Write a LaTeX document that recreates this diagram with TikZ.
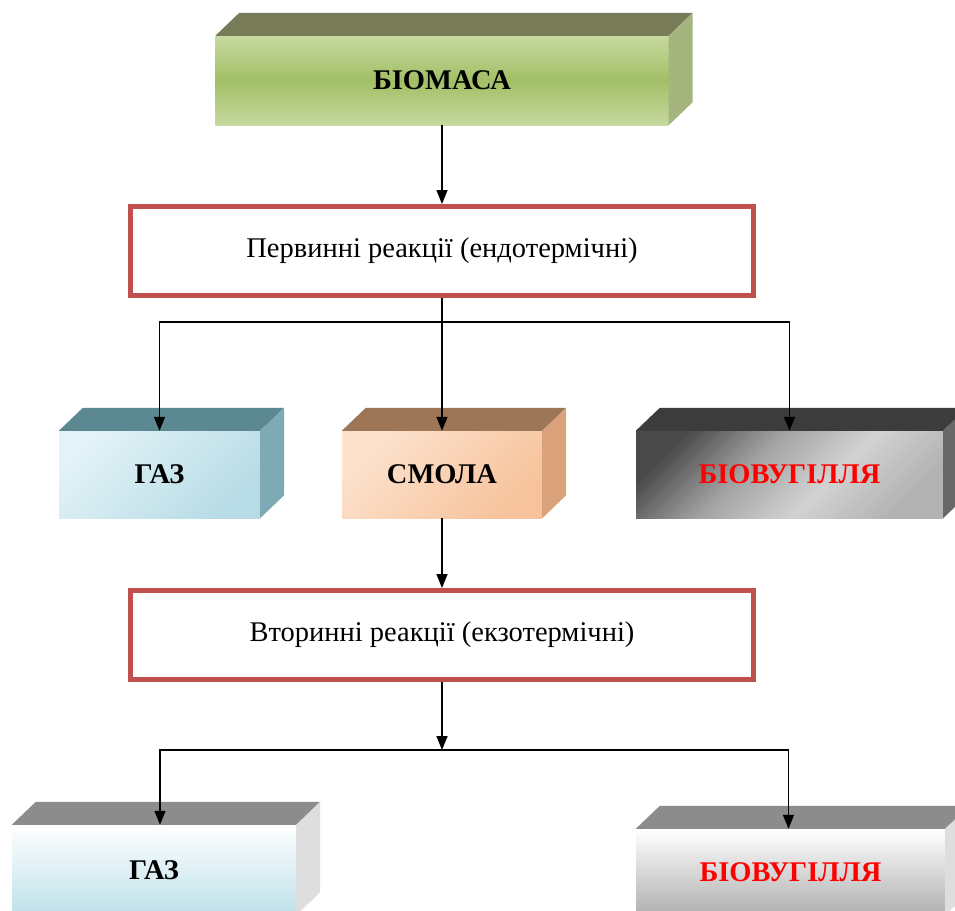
\documentclass[tikz,border=0pt]{standalone}
\usepackage{fontspec}
\setmainfont{Liberation Serif}
\usetikzlibrary{arrows.meta,calc}
\definecolor{boxred}{HTML}{C0504D}
\definecolor{bioLight}{HTML}{C6D9A0}
\definecolor{bioMid}{HTML}{A2BF66}
\definecolor{bioTop}{HTML}{787B57}
\definecolor{bioSide}{HTML}{A6B57D}
\definecolor{gasLight}{HTML}{E2F2F6}
\definecolor{gasDark}{HTML}{B7DCE6}
\definecolor{gasTop}{HTML}{5B8891}
\definecolor{gasSide}{HTML}{7DAAB5}
\definecolor{tarLight}{HTML}{FDE2CD}
\definecolor{tarDark}{HTML}{F6C39C}
\definecolor{tarTop}{HTML}{9C7657}
\definecolor{tarSide}{HTML}{D9A27B}
\definecolor{charDark}{HTML}{4A4A4A}
\definecolor{charGray}{HTML}{A2A2A2}
\definecolor{charMid}{HTML}{D2D2D2}
\definecolor{charLight}{HTML}{B2B2B2}
\definecolor{charTop}{HTML}{3C3C3C}
\definecolor{charSide}{HTML}{686868}
\definecolor{lowTop}{HTML}{8C8C8C}
\definecolor{lowSide}{HTML}{DEDEDE}
\definecolor{lowBlue}{HTML}{BDE0E9}
\definecolor{lowGray}{HTML}{B0B0B0}
\definecolor{txtred}{HTML}{FF0000}
\pgfdeclarehorizontalshading{charshade}{100bp}{color(0bp)=(charDark); color(24bp)=(charDark); color(41bp)=(charGray); color(58bp)=(charMid); color(76bp)=(charLight); color(100bp)=(charLight)}
\newcommand\mycuboid[3]{%
  \fill[#2] (#1.north west) -- ++(24,-23) -- ($(#1.north east)+(24,-23)$) -- (#1.north east) -- cycle;
  \fill[#3] (#1.north east) -- ++(24,-23) -- ($(#1.south east)+(24,-23)$) -- (#1.south east) -- cycle;}
\begin{document}
\begin{tikzpicture}[x=1pt,y=-1pt,
  front/.style={draw=none, inner sep=0pt, font=\fontsize{28.5}{31}\selectfont\bfseries},
  redbox/.style={draw=boxred, line width=5pt, fill=white, minimum width=623pt, minimum height=89pt, inner sep=0pt, font=\fontsize{28.5}{31}\selectfont},
  conn/.style={line width=1.5pt, -{Triangle[length=14pt,width=11pt]}},
  plain/.style={line width=1.5pt}]
\useasboundingbox (0,0) rectangle (955,910);
\fill[white] (0,0) rectangle (955,910);

% boxes
\node[front, minimum width=453pt, minimum height=89pt, top color=bioLight, bottom color=bioLight, middle color=bioMid] (bio) at (442,80.5) {БІОМАСА};
\mycuboid{bio}{bioTop}{bioSide}

\node[redbox] (r1) at (442,251) {Первинні реакції (ендотермічні)};

\node[front, minimum width=201pt, minimum height=87pt, top color=gasLight, bottom color=gasDark, shading angle=45] (gas1) at (159.5,474.5) {ГАЗ};
\mycuboid{gas1}{gasTop}{gasSide}

\node[front, minimum width=200pt, minimum height=87pt, top color=tarLight, bottom color=tarDark, shading angle=45] (tar) at (442,474.5) {СМОЛА};
\mycuboid{tar}{tarTop}{tarSide}

\node[front, minimum width=307pt, minimum height=87pt, shading=charshade, shading angle=-45, text=txtred] (char1) at (789.5,474.5) {БІОВУГІЛЛЯ};
\mycuboid{char1}{charTop}{charSide}

\node[redbox] (r2) at (442,635) {Вторинні реакції (екзотермічні)};

\node[front, minimum width=284pt, minimum height=90pt, top color=white, bottom color=lowBlue] (gas2) at (154,870) {ГАЗ};
\mycuboid{gas2}{lowTop}{lowSide}

\node[front, minimum width=309pt, minimum height=86pt, top color=white, bottom color=lowGray, text=txtred] (char2) at (790.5,872) {БІОВУГІЛЛЯ};
\mycuboid{char2}{lowTop}{lowSide}

% junctions
\coordinate (j1) at ($(r1.south)+(0,24)$);
\coordinate (j2) at ($(r2.south)+(0,68)$);

% connectors
\draw[conn] (bio.south) -- (r1.north);
\draw[plain] (r1.south) -- (j1);
\draw[conn] (j1) -| (gas1.north);
\draw[conn] (j1) -- (tar.north);
\draw[conn] (j1) -| (char1.north);
\draw[conn] (tar.south) -- (r2.north);
\draw[conn] (r2.south) -- (j2);
\draw[conn] (j2) -| ([xshift=6pt]gas2.north);
\draw[conn] (j2) -| ([xshift=-2pt]char2.north);
\end{tikzpicture}
\end{document}
